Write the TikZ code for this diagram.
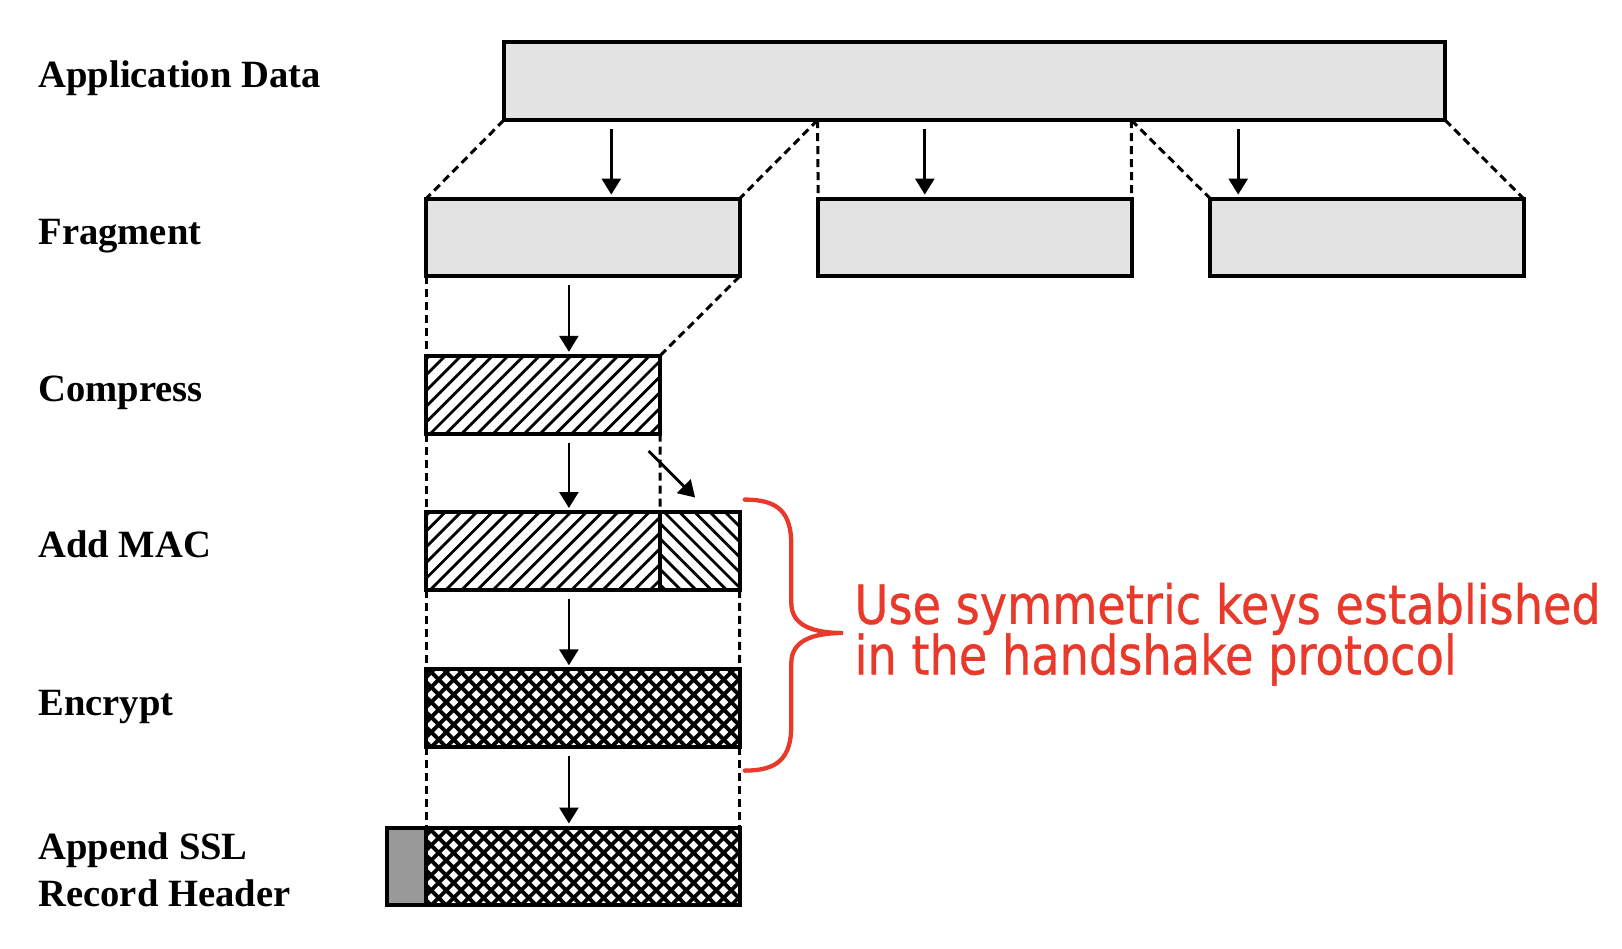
\documentclass[tikz,border=0pt]{standalone}
\usepackage{fontspec}
\usepackage{graphicx}
\setmainfont{Liberation Serif}
\newfontfamily\notefont[FakeBold=0.6]{DejaVu Sans Condensed}
\usetikzlibrary{arrows.meta,calc}
\definecolor{boxgray}{RGB}{227,227,227}
\definecolor{hdrgray}{RGB}{153,153,153}
\definecolor{notered}{RGB}{232,57,43}
\tikzset{
  box/.style={draw=black, line width=4pt, inner sep=0pt, outer sep=0pt, minimum height=77.8pt, anchor=north west},
  grayfill/.style={fill=boxgray},
  hatchR/.style={path picture={\foreach \i in {-90,-74.3,...,330} \draw[line width=2.8pt] ($(path picture bounding box.south west)+(\i,0)$) -- ++(90,90);}},
  hatchL/.style={path picture={\foreach \i in {-10,5.3,...,200} \draw[line width=2.8pt] ($(path picture bounding box.south west)+(\i,0)$) -- ++(-90,90);}},
  cross/.style={path picture={\foreach \i in {-100,-85,...,420} {\draw[line width=3.8pt] ($(path picture bounding box.south west)+(\i,0)$) -- ++(90,90); \draw[line width=3.8pt] ($(path picture bounding box.south west)+(\i,0)$) -- ++(-90,90);}}},
  lbl/.style={anchor=base west, inner sep=0pt, font=\fontsize{38.6}{44}\selectfont\bfseries},
  guide/.style={line width=3pt, dash pattern=on 8pt off 5pt},
  flow/.style={line width=2.7pt, -{Triangle[width=19pt,length=16pt]}, shorten <=9pt, shorten >=4pt},
  brace/.style={draw=notered, line width=4.3pt, line cap=round},
  note/.style={anchor=base west, inner sep=0pt, text=notered, font=\notefont\fontsize{54}{60}\selectfont}
}
\begin{document}
\begin{tikzpicture}[x=1pt,y=1pt]
\useasboundingbox (0,0) rectangle (1622,-948);
% labels
\node[lbl] (lapp) at (38.3,-87.9) {Application Data};
\node[lbl] (lfrag) at (38.3,-244.1) {Fragment};
\node[lbl] (lcomp) at (38.3,-401.4) {Compress};
\node[lbl] (lmac) at (38.3,-557.5) {Add MAC};
\node[lbl] (lenc) at (38.3,-715.8) {Encrypt};
\node[lbl] (lapp1) at (38.3,-859.6) {Append SSL};
\node[lbl] (lapp2) at (38.3,-906.1) {Record Header};
% boxes
\node[box,grayfill,minimum width=941.3pt] (app) at (503.8,-42.4) {};
\node[box,grayfill,minimum width=313.4pt] (f1) at (426.2,-198.6) {};
\node[box,grayfill,minimum width=313.4pt] (f2) at (818.2,-198.6) {};
\node[box,grayfill,minimum width=313.4pt] (f3) at (1210.3,-198.6) {};
\node[box,hatchR,minimum width=233.8pt] (comp) at (426.2,-355.8) {};
\node[box,hatchR,minimum width=233.8pt] (mac1) at (426.2,-512.0) {};
\node[box,hatchL,minimum width=79.6pt] (mac2) at (660.0,-512.0) {};
\node[box,cross,minimum width=313.4pt] (enc) at (426.2,-669.3) {};
\node[box,fill=hdrgray,minimum width=39.3pt] (hdr) at (386.9,-827.5) {};
\node[box,cross,minimum width=313.4pt] (rec) at (426.2,-827.5) {};
% guides
\coordinate (a1) at ($(app.south west)!1/3!(app.south east)$);
\coordinate (a2) at ($(app.south west)!2/3!(app.south east)$);
\draw[guide] (app.south west) -- (f1.north west);
\draw[guide] (a1) -- (f1.north east);
\draw[guide] (a1) -- (f2.north west);
\draw[guide] (a2) -- (f2.north east);
\draw[guide] (a2) -- (f3.north west);
\draw[guide] (app.south east) -- (f3.north east);
\draw[guide] (f1.south west) -- (comp.north west);
\draw[guide] (comp.south west) -- (mac1.north west);
\draw[guide] (mac1.south west) -- (enc.north west);
\draw[guide] (enc.south west) -- (rec.north west);
\draw[guide] (f1.south east) -- (comp.north east);
\draw[guide] (comp.south east) -- (mac2.north west);
\draw[guide] (mac2.south east) -- (enc.north east);
\draw[guide] (enc.south east) -- (rec.north east);
% arrows
\coordinate (s1) at ($(app.south west)+(107.5,0)$);
\coordinate (s2) at ($(app.south west)+(421,0)$);
\coordinate (s3) at ($(app.south west)+(734.4,0)$);
\draw[flow] (s1) -- (s1 |- f1.north);
\draw[flow] (s2) -- (s2 |- f2.north);
\draw[flow] (s3) -- (s3 |- f3.north);
\coordinate (vx) at (568.9,0);
\draw[flow] (vx |- f1.south) -- (vx |- comp.north);
\draw[flow] (vx |- comp.south) -- (vx |- mac1.north);
\draw[flow] (vx |- mac1.south) -- (vx |- enc.north);
\draw[flow] (vx |- enc.south) -- (vx |- rec.north);
\coordinate (d1) at (648.6,-451.0);
\coordinate (d2) at (695.1,-497.5);
\draw[flow, shorten <=0pt, shorten >=0pt] (d1) -- (d2);
% brace
\coordinate (bt) at (744.8,-499.6);
\coordinate (bb) at (744.8,-770.6);
\coordinate (tip) at (843,-633);
\draw[brace] (bt) .. controls (778,-499.6) and (791.3,-512) .. (791.3,-545) -- (791.3,-603) .. controls (791.3,-625) and (812,-633) .. (tip) .. controls (812,-633) and (791.3,-641) .. (791.3,-663) -- (791.3,-725) .. controls (791.3,-758) and (778,-770.6) .. (bb);
% note
\node[note] (t1) at (854.4,-623.8) {\scalebox{0.952}[1]{Use symmetric keys established}};
\node[note] (t2) at (854.4,-674.4) {\scalebox{0.952}[1]{in the handshake protocol}};
\end{tikzpicture}
\end{document}
